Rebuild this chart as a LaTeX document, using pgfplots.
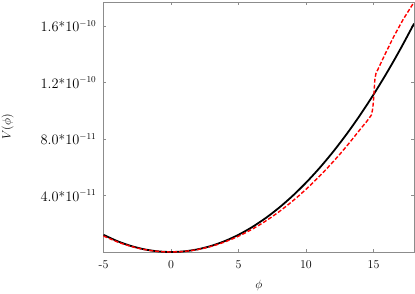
\documentclass[border=0pt,12pt]{standalone}
\usepackage{pgfplots}
\pgfplotsset{compat=1.18}
\usetikzlibrary{calc}
\begin{document}
\begin{tikzpicture}
\path[use as bounding box] (-103.5pt,-41pt) rectangle (311.5pt,252pt);
\begin{axis}[
  at={(0pt,0pt)}, anchor=south west,
  scale only axis,
  width=310.5pt, height=250pt,
  xmin=-5, xmax=18, ymin=0, ymax=1.771e-10,
  xtick={-5,0,5,10,15}, xticklabels={-5,0,5,10,15},
  ytick={4e-11,8e-11,1.2e-10,1.6e-10},
  yticklabels={$4.0$*$10^{-11}$,$8.0$*$10^{-11}$,$1.2$*$10^{-10}$,$1.6$*$10^{-10}$},
  scaled y ticks=false,
  tick align=inside, major tick length=3pt,
  axis line style={draw=gray!90, line width=0.8pt},
  every tick/.style={draw=gray!90, line width=0.6pt},
  tick label style={font=\fontsize{12}{14}\selectfont},
  xticklabel style={yshift=-4pt},
  yticklabel style={xshift=-3pt, font=\fontsize{13.5}{15}\selectfont},
  xlabel={$\phi$}, ylabel={$V(\phi)$},
  every axis x label/.style={at={(axis description cs:0.5,-0.132)}, anchor=center, font=\fontsize{12}{14}\selectfont},
  every axis y label/.style={at={(axis description cs:-0.309,0.5)}, anchor=center, rotate=90, font=\fontsize{12}{14}\selectfont},
  clip=true,
]
\addplot[black, line width=1.8pt, smooth] coordinates {
(-5,1.2199e-11) (-4,7.802e-12) (-3,4.386e-12) (-2,1.948e-12) (-1,4.87e-13)
(0,0) (1,4.87e-13) (2,1.948e-12) (3,4.386e-12) (4,7.802e-12) (5,1.2199e-11)
(6,1.7581e-11) (7,2.3954e-11) (8,3.1324e-11) (9,3.9696e-11) (10,4.908e-11)
(11,5.9483e-11) (12,7.0916e-11) (13,8.3388e-11) (14,9.6912e-11) (15,1.11499e-10)
(16,1.27162e-10) (17,1.43917e-10) (18,1.61777e-10)
};
\addplot[red, line width=1.4pt, dash pattern=on 4pt off 2pt] coordinates {
(-5,1.1345e-11) (-4.5,9.3e-12) (-4,7.256e-12) (-3.5,5.55e-12) (-3,4.079e-12) (-2.5,2.83e-12) (-2,1.812e-12) (-1.5,1.02e-12) (-1,4.53e-13) (-0.5,1.13e-13)
(0,0) (0.5,1.13e-13) (1,4.517e-13) (1.5,1.015e-12) (2,1.802e-12) (2.5,2.81e-12) (3,4.046e-12) (3.5,5.5e-12) (4,7.178e-12) (4.5,9.08e-12) (5,1.1193e-11)
(5.5,1.354e-11) (6,1.6087e-11) (6.5,1.886e-11) (7,2.1858e-11) (7.5,2.508e-11) (8,2.8505e-11) (8.5,3.217e-11) (9,3.6024e-11) (9.5,4.01e-11) (10,4.4417e-11)
(10.5,4.895e-11) (11,5.3683e-11) (11.5,5.865e-11) (12,6.3824e-11) (12.5,6.92e-11) (13,7.4841e-11) (13.5,8.07e-11) (14,8.6736e-11) (14.5,9.25e-11)
(14.85,9.71e-11) (14.95,1.02e-10) (15.02,1.1e-10) (15.1,1.22e-10) (15.18,1.265e-10) (15.25,1.278e-10)
(15.9,1.41e-10) (16.5,1.526e-10) (17.2,1.648e-10) (17.95,1.762e-10) (18,1.77e-10)
};
\end{axis}
\end{tikzpicture}
\end{document}
